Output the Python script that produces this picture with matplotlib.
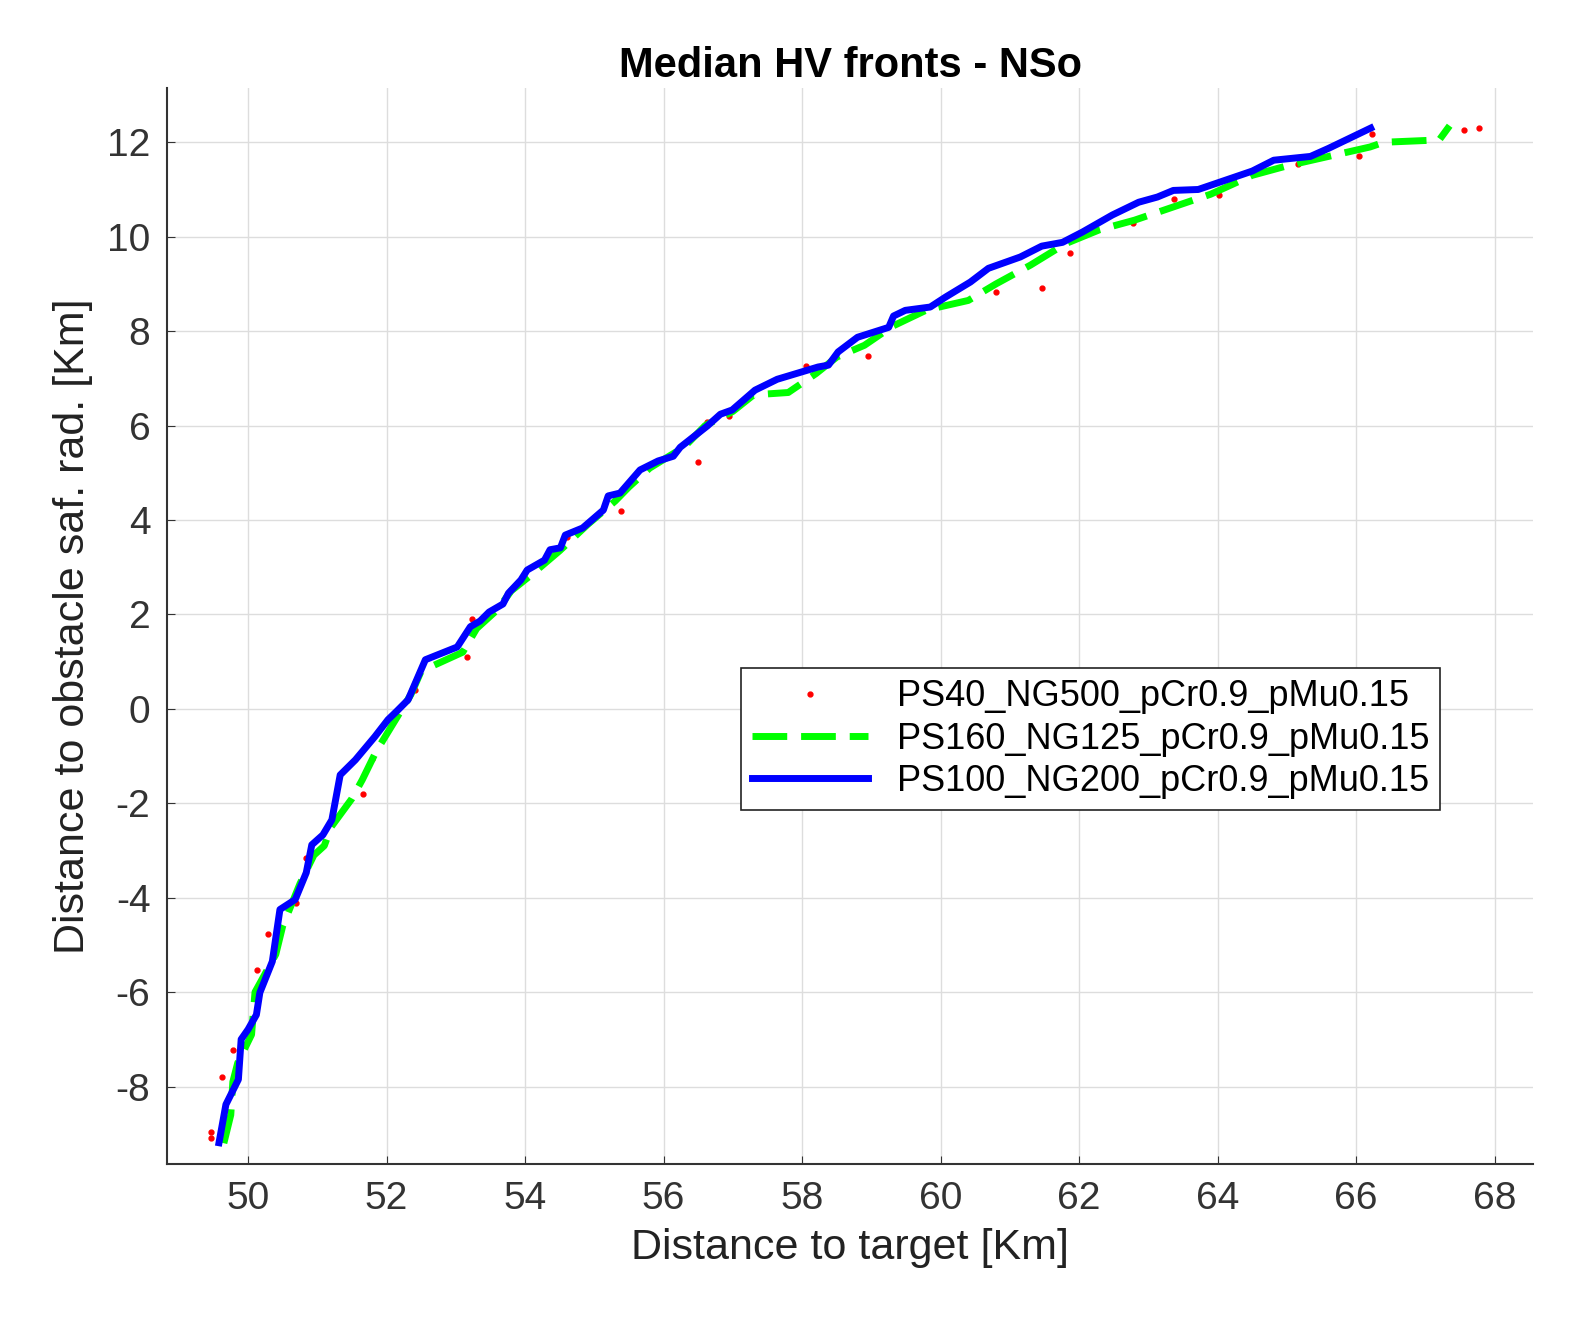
import matplotlib
matplotlib.use("Agg")
import matplotlib.pyplot as plt

plt.rcParams['font.family'] = ['Liberation Sans', 'DejaVu Sans']
plt.rcParams['axes.unicode_minus'] = False

red_x = [49.47,49.47,49.62,49.78,50.13,50.29,50.69,50.84,51.66,51.79,52.41,53.16,53.24,54.61,55.38,56.5,56.62,56.95,58.05,58.95,60.8,61.46,61.87,62.78,63.37,64.02,65.16,66.04,66.23,67.55,67.77]
red_y = [-8.97,-9.1,-7.79,-7.22,-5.53,-4.77,-4.11,-3.15,-1.8,-1.06,0.4,1.1,1.9,3.64,4.19,5.23,6.07,6.2,7.26,7.47,8.83,8.91,9.65,10.3,10.79,10.88,11.53,11.7,12.17,12.25,12.3]

green_x = [49.65,49.75,49.78,49.85,50.05,50.1,50.4,50.5,50.75,50.95,51.1,51.2,51.5,51.65,51.85,52.1,52.35,52.5,52.8,53.1,53.3,53.6,53.8,54.1,54.5,54.9,55.3,55.5,55.8,56.3,56.6,57.0,57.3,57.8,58.2,58.5,58.9,59.3,59.8,60.4,60.8,61.3,61.8,62.3,62.8,63.3,63.9,64.5,65.0,65.6,66.2,66.4,67.2,67.35]
green_y = [-9.2,-8.6,-7.9,-7.5,-6.9,-6.0,-5.2,-4.6,-3.7,-3.1,-2.9,-2.5,-1.9,-1.5,-0.9,-0.3,0.3,0.8,1.0,1.2,1.7,2.1,2.5,2.85,3.35,3.9,4.4,4.7,5.1,5.55,6.0,6.3,6.65,6.7,7.1,7.45,7.7,8.1,8.45,8.65,9.0,9.4,9.85,10.15,10.35,10.6,10.9,11.3,11.5,11.7,11.9,12.0,12.05,12.35]

blue_x = [49.58,49.68,49.86,49.90,50.0,50.12,50.17,50.35,50.46,50.68,50.84,50.92,51.08,51.21,51.33,51.55,51.83,52.02,52.14,52.31,52.56,52.73,53.02,53.21,53.35,53.48,53.68,53.76,53.94,54.03,54.28,54.36,54.51,54.58,54.83,55.13,55.20,55.37,55.66,55.92,56.14,56.24,56.63,56.82,56.99,57.32,57.64,58.23,58.38,58.52,58.80,59.25,59.32,59.49,59.85,60.07,60.43,60.69,61.15,61.46,61.76,62.05,62.48,62.86,63.13,63.36,63.72,63.94,64.50,64.81,65.34,65.60,66.21]
blue_y = [-9.19,-8.38,-7.85,-7.0,-6.79,-6.48,-6.01,-5.35,-4.25,-4.04,-3.47,-2.88,-2.67,-2.35,-1.40,-1.08,-0.59,-0.23,-0.06,0.19,1.04,1.14,1.31,1.74,1.86,2.05,2.22,2.45,2.73,2.94,3.15,3.37,3.41,3.68,3.83,4.21,4.51,4.57,5.06,5.25,5.35,5.54,5.99,6.24,6.33,6.75,6.98,7.24,7.28,7.56,7.87,8.08,8.32,8.44,8.51,8.72,9.04,9.33,9.57,9.80,9.88,10.10,10.46,10.73,10.84,10.98,11.0,11.11,11.39,11.62,11.70,11.87,12.30]

labels = ['PS40_NG500_pCr0.9_pMu0.15', 'PS160_NG125_pCr0.9_pMu0.15', 'PS100_NG200_pCr0.9_pMu0.15']

fig = plt.figure(figsize=(15.76, 13.4), dpi=100)
ax = fig.add_axes([0.106, 0.131, 0.867, 0.803])
ax.plot(red_x, red_y, '.', color='red', markersize=7, label=labels[0])
ax.plot(green_x, green_y, '--', color='#00ff00', linewidth=5, dashes=(5, 2), label=labels[1])
ax.plot(blue_x, blue_y, '-', color='#0000ff', linewidth=5, label=labels[2])

ax.set_xlim(48.83, 68.56)
ax.set_ylim(-9.65, 13.14)
ax.set_xticks(range(50, 69, 2))
ax.set_yticks(range(-8, 13, 2))
ax.grid(True, color='#dddddd', linewidth=1)
ax.set_axisbelow(True)
for s in ['top', 'right']:
    ax.spines[s].set_visible(False)
for s in ['left', 'bottom']:
    ax.spines[s].set_color('#333333')
    ax.spines[s].set_linewidth(1.5)
ax.tick_params(labelsize=28, colors='#333333', direction='in', length=6, pad=12)
ax.set_xlabel('Distance to target [Km]', fontsize=31, color='#222222', labelpad=8)
ax.set_ylabel('Distance to obstacle saf. rad. [Km]', fontsize=31, color='#222222', labelpad=10)
ax.set_title('Median HV fronts - NSo', fontsize=30, fontweight='bold', pad=8)
leg = ax.legend(loc='lower left', bbox_to_anchor=(0.407, 0.313), fontsize=26,
                fancybox=False, edgecolor='#222222', framealpha=1,
                handlelength=3.2, borderpad=0.3, labelspacing=0.2)
leg.get_frame().set_linewidth(1.2)
fig.savefig('out.png', dpi=100)
